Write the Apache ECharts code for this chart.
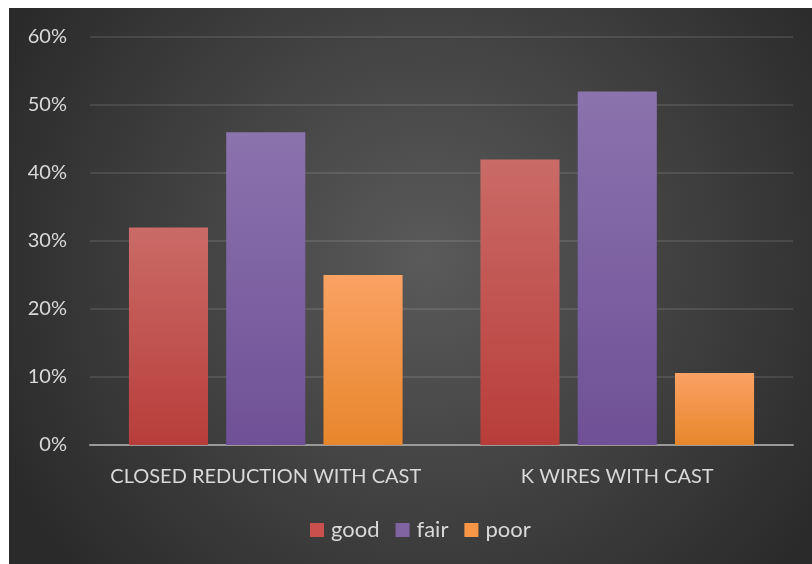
<!DOCTYPE html>
<html>
<head>
<meta charset="utf-8">
<script src="https://cdn.jsdelivr.net/npm/echarts@6/dist/echarts.min.js"></script>
<style>
  html, body { margin: 0; padding: 0; background: #ffffff; }
  #chart { position: absolute; left: 9px; top: 8px; width: 803px; height: 556px; }
</style>
</head>
<body>
<div id="chart"></div>
<script>
// Treatment groups on the x axis
const categories = ['CLOSED REDUCTION WITH CAST', 'K WIRES WITH CAST'];
// Outcome shares (percent) per treatment group
const good = [32, 42];
const fair = [46, 52];
const poor = [25, 10.6];
const yTicks = [0, 10, 20, 30, 40, 50, 60];

const font = 'Lato, "Open Sans", sans-serif';
const textColor = '#d9d9d9';

function grad(top, bottom) {
  return new echarts.graphic.LinearGradient(0, 0, 0, 1, [
    { offset: 0, color: top },
    { offset: 1, color: bottom }
  ]);
}

function barSeries(name, data, top, bottom) {
  return {
    name: name,
    type: 'bar',
    data: data,
    barWidth: '22.5%',
    barGap: '23%',
    itemStyle: {
      color: grad(top, bottom),
      shadowColor: 'rgba(0,0,0,0.45)',
      shadowBlur: 8,
      shadowOffsetX: 2,
      shadowOffsetY: 2
    }
  };
}

const chart = echarts.init(document.getElementById('chart'));
chart.setOption({
  backgroundColor: new echarts.graphic.RadialGradient(0.52, 0.45, 0.85, [
    { offset: 0, color: '#5a5a5a' },
    { offset: 1, color: '#2a2a2a' }
  ]),
  color: ['#c0504d', '#8064a2', '#f79646'],
  textStyle: { fontFamily: font },
  grid: { left: 81, right: 19, top: 29, bottom: 119 },
  legend: {
    bottom: 18,
    left: 296,
    itemWidth: 14,
    itemHeight: 14,
    itemGap: 16,
    icon: 'rect',
    textStyle: { color: textColor, fontSize: 22, fontFamily: font, padding: [0, 0, 0, 2] },
    data: [
      { name: 'good', itemStyle: { color: '#c9504d' } },
      { name: 'fair', itemStyle: { color: '#8064a2' } },
      { name: 'poor', itemStyle: { color: '#f79646' } }
    ]
  },
  xAxis: {
    type: 'category',
    data: categories,
    axisLine: { lineStyle: { color: '#9a9a9a', width: 2 } },
    axisTick: { show: false },
    axisLabel: { color: textColor, fontSize: 20, margin: 22, interval: 0, fontFamily: font }
  },
  yAxis: {
    type: 'value',
    min: yTicks[0],
    max: yTicks[yTicks.length - 1],
    interval: 10,
    axisLine: { show: false },
    axisTick: { show: false },
    splitLine: { lineStyle: { color: 'rgba(255,255,255,0.1)', width: 2 } },
    axisLabel: { color: textColor, fontSize: 20, margin: 23, fontFamily: font, formatter: '{value}%' }
  },
  series: [
    barSeries('good', good, '#ca6b67', '#b83d3a'),
    barSeries('fair', fair, '#8b73ae', '#6f5096'),
    barSeries('poor', poor, '#faa264', '#e8862b')
  ]
});
</script>
</body>
</html>
